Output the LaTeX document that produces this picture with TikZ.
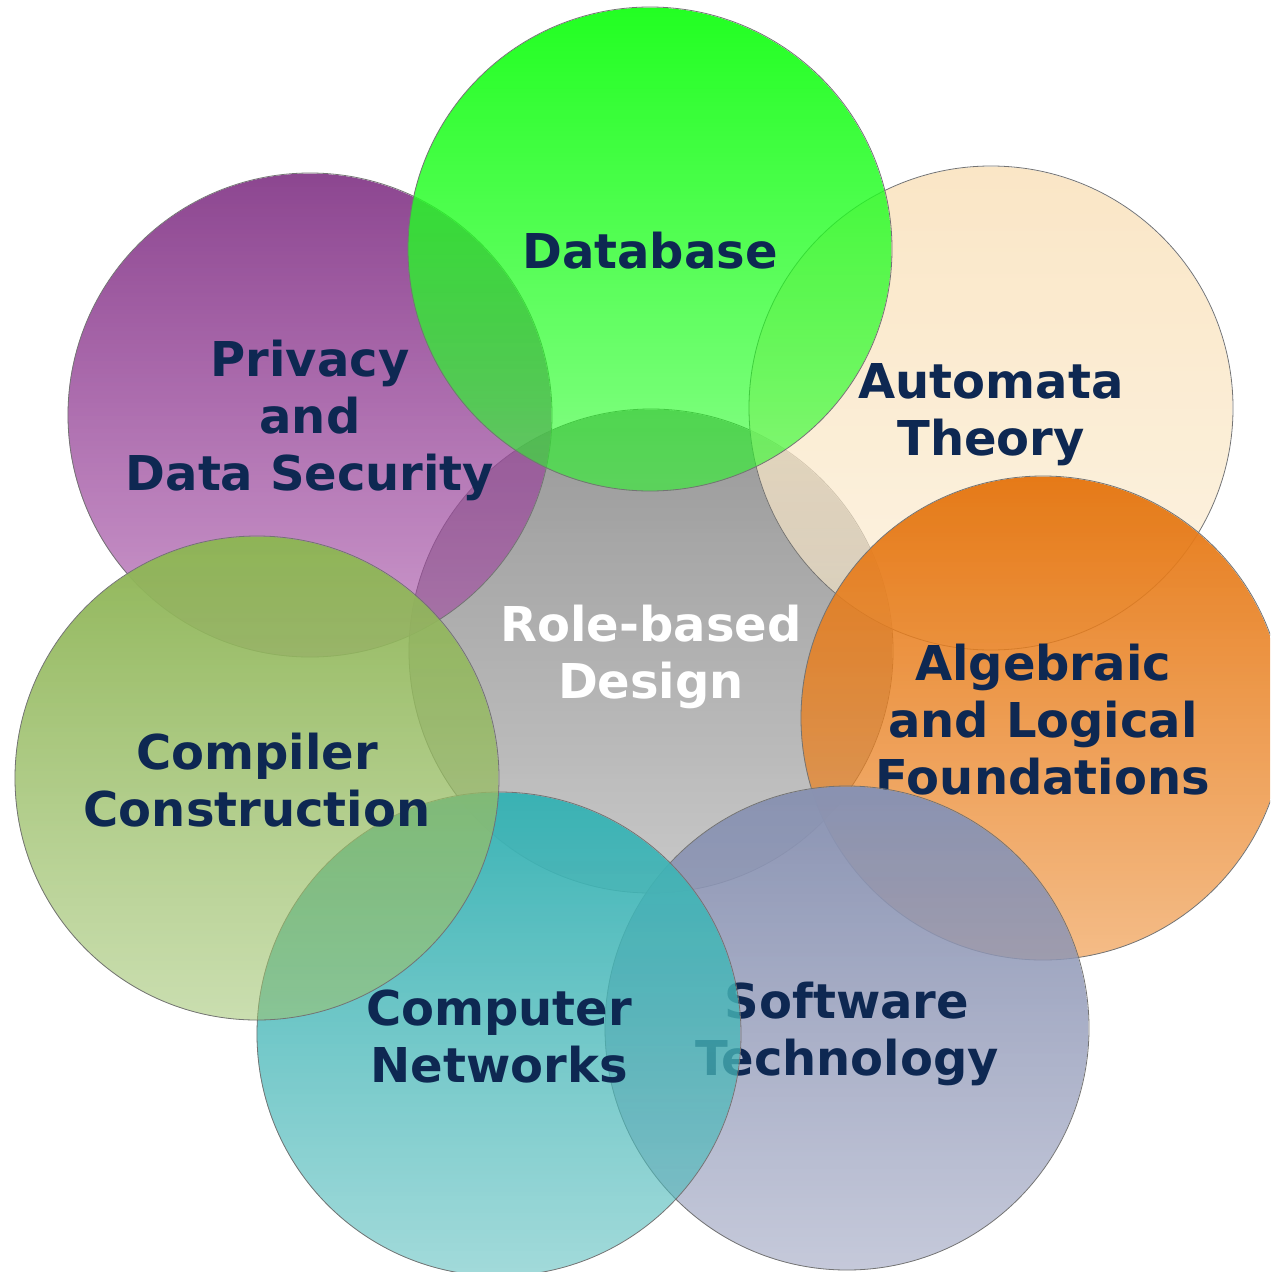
\documentclass[tikz,border=0pt]{standalone}
\usepackage{fontspec}
\setmainfont{DejaVu Sans}
\usetikzlibrary{fadings}
\definecolor{navy}{RGB}{14,40,82}
\definecolor{rim}{RGB}{115,115,115}
\definecolor{cenT}{RGB}{153,153,153}\definecolor{cenB}{RGB}{155,155,155}
\definecolor{dbT}{RGB}{34,255,34}\definecolor{dbB}{RGB}{37,252,37}
\definecolor{auT}{RGB}{250,230,198}\definecolor{auB}{RGB}{250,233,202}
\definecolor{alT}{RGB}{230,122,24}\definecolor{alB}{RGB}{235,133,38}
\definecolor{swT}{RGB}{138,147,178}\definecolor{swB}{RGB}{150,157,188}
\definecolor{nwT}{RGB}{58,179,181}\definecolor{nwB}{RGB}{86,188,188}
\definecolor{ccT}{RGB}{143,181,87}\definecolor{ccB}{RGB}{159,195,111}
\definecolor{pvT}{RGB}{140,70,144}\definecolor{pvB}{RGB}{162,71,162}
\tikzfading[name=fadedown, top color=transparent!0, bottom color=transparent!45]
\newcommand\lnstrut{\rule[-9pt]{0pt}{57pt}}
\newcommand\lblfont{\fontsize{48}{57}\selectfont\bfseries\lineskiplimit -40pt\relax}
\tikzset{
  disc/.style={path fading=fadedown},
  rimline/.style={draw=rim, line width=0.8pt},
  lbl/.style={align=center, inner sep=0pt, text=navy, font=\lblfont},
}
\begin{document}
\begin{tikzpicture}[x=1pt,y=-1pt]
\useasboundingbox (0,0) rectangle (1270,1272);
\clip (0,0) rectangle (1270,1272);
% centre
\path[disc, top color=cenT, bottom color=cenB] (651,651) circle[radius=242];
\path[rimline] (651,651) circle[radius=242];
\node[lbl, text=white] (role) at (651,651) {Role-based\lnstrut\\Design\lnstrut};
% automata
\path[disc, top color=auT, bottom color=auB] (991,408) circle[radius=242];
\path[rimline] (991,408) circle[radius=242];
\node[lbl] (auto) at (991,408) {Automata\lnstrut\\Theory\lnstrut};
% algebraic
\path[disc, top color=alT, bottom color=alB] (1043,718) circle[radius=242];
\path[rimline] (1043,718) circle[radius=242];
\node[lbl] (alg) at (1043,718) {Algebraic\lnstrut\\and Logical\lnstrut\\Foundations\lnstrut};
% software
\path[disc, top color=swT, bottom color=swB] (847,1028) circle[radius=242];
\path[rimline] (847,1028) circle[radius=242];
\node[lbl] (soft) at (847,1028) {Software\lnstrut\\Technology\lnstrut};
% networks
\path[disc, top color=nwT, bottom color=nwB] (499,1034) circle[radius=242];
\path[rimline] (499,1034) circle[radius=242];
\node[lbl] (net) at (499,1034) {Computer\lnstrut\\Networks\lnstrut};
% privacy
\path[disc, top color=pvT, bottom color=pvB] (310,415) circle[radius=242];
\path[rimline] (310,415) circle[radius=242];
\node[lbl] (priv) at (310,415) {Privacy\lnstrut\\and\lnstrut\\Data Security\lnstrut};
% compiler
\path[disc, top color=ccT, bottom color=ccB] (257,778) circle[radius=242];
\path[rimline] (257,778) circle[radius=242];
\node[lbl] (comp) at (257,778) {Compiler\lnstrut\\Construction\lnstrut};
% database
\path[disc, top color=dbT, bottom color=dbB] (650,249) circle[radius=242];
\path[rimline] (650,249) circle[radius=242];
\node[lbl] (db) at (650,249) {Database\lnstrut};
\end{tikzpicture}
\end{document}
